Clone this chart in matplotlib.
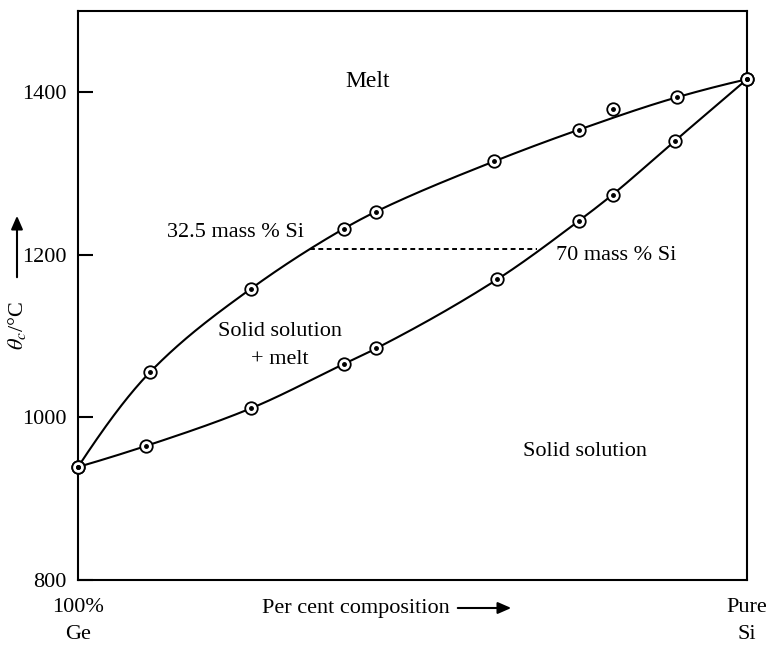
import matplotlib
matplotlib.use('Agg')
import matplotlib.pyplot as plt
import numpy as np

plt.rcParams['font.family'] = ['Liberation Serif', 'DejaVu Serif']
plt.rcParams['mathtext.fontset'] = 'stix'

#################################
## data (mass % Si, temperature in C)
#################################
liquidus_x = [0, 10.8, 25.8, 39.7, 44.5, 62.2, 74.9, 89.6, 100]
liquidus_T = [939, 1056, 1158, 1232, 1253, 1315, 1354, 1394, 1416]
stray_x = [80.0]
stray_T = [1380]
solidus_x = [0, 10.2, 25.8, 39.8, 44.6, 62.7, 74.9, 79.9, 89.2, 100]
solidus_T = [939, 965, 1011, 1066, 1085, 1170, 1242, 1274, 1340, 1416]
tie_x = [34.7, 68.6]
tie_T = 1207
y_ticks = [800, 1000, 1200, 1400]


def pchip(x, y, xs):
    # monotone cubic through the measured points, just for a smooth line
    x = np.asarray(x, float)
    y = np.asarray(y, float)
    h = np.diff(x)
    d = np.diff(y) / h
    m = np.zeros_like(y)
    for k in range(1, len(x) - 1):
        if d[k - 1] * d[k] > 0:
            w1 = 2 * h[k] + h[k - 1]
            w2 = h[k] + 2 * h[k - 1]
            m[k] = (w1 + w2) / (w1 / d[k - 1] + w2 / d[k])
    # three point end slopes
    m[0] = ((2 * h[0] + h[1]) * d[0] - h[0] * d[1]) / (h[0] + h[1])
    m[-1] = ((2 * h[-1] + h[-2]) * d[-1] - h[-1] * d[-2]) / (h[-1] + h[-2])
    i = np.clip(np.searchsorted(x, xs) - 1, 0, len(x) - 2)
    t = (xs - x[i]) / h[i]
    h00 = 2 * t**3 - 3 * t**2 + 1
    h10 = t**3 - 2 * t**2 + t
    h01 = -2 * t**3 + 3 * t**2
    h11 = t**3 - t**2
    return h00 * y[i] + h10 * h[i] * m[i] + h01 * y[i + 1] + h11 * h[i] * m[i + 1]


#################################
## figure
#################################
fig = plt.figure(figsize=(7.7, 6.46), dpi=100)
ax = fig.add_axes([0.1013, 0.1022, 0.8688, 0.8808])

xs = np.linspace(0, 100, 600)
ax.plot(xs, pchip(liquidus_x, liquidus_T, xs), color='black', lw=1.5)
ax.plot(xs, pchip(solidus_x, solidus_T, xs), color='black', lw=1.5)

for px, py in [(liquidus_x, liquidus_T), (solidus_x, solidus_T), (stray_x, stray_T)]:
    ax.plot(px, py, 'o', mfc='white', mec='black', ms=9, mew=1.3, zorder=3, clip_on=False)
    ax.plot(px, py, 'o', color='black', ms=2.5, zorder=4, clip_on=False)

ax.plot(tie_x, [tie_T, tie_T], color='black', lw=1.4, ls=(0, (2.5, 1.8)))

ax.set_xlim(0, 100)
ax.set_ylim(800, 1500)
ax.set_yticks(y_ticks)
ax.tick_params(axis='y', direction='in', length=11, width=1.5, labelsize=16, pad=8)
ax.set_xticks([0, 100])
ax.set_xticklabels(['100%\nGe', 'Pure\nSi'], fontsize=16, linespacing=1.55)
ax.tick_params(axis='x', length=0, pad=13)
for s in ax.spines.values():
    s.set_linewidth(1.5)

#################################
## labels
#################################
ax.text(43.3, 1413, 'Melt', fontsize=17, ha='center', va='center')
ax.text(13.3, 1228, '32.5 mass % Si', fontsize=16, ha='left', va='center')
ax.text(71.5, 1199, '70 mass % Si', fontsize=16, ha='left', va='center')
ax.text(30.2, 1106, 'Solid solution', fontsize=16, ha='center', va='center')
ax.text(30.2, 1071, '+ melt', fontsize=16, ha='center', va='center')
ax.text(75.8, 958, 'Solid solution', fontsize=16, ha='center', va='center')

fig.text(262 / 770, 1 - 608 / 646, 'Per cent composition', fontsize=16, ha='left', va='center')
fig.add_artist(matplotlib.patches.FancyArrowPatch(
    (455 / 770, 1 - 608 / 646), (514 / 770, 1 - 608 / 646), transform=fig.transFigure,
    arrowstyle='-|>,head_length=8,head_width=3.5', color='black', lw=1.5))

fig.text(17 / 770, 1 - 325 / 646, r'$\theta_c$/°C', fontsize=16, rotation=90, ha='center', va='center')
fig.add_artist(matplotlib.patches.FancyArrowPatch(
    (17 / 770, 1 - 280 / 646), (17 / 770, 1 - 213 / 646), transform=fig.transFigure,
    arrowstyle='-|>,head_length=8,head_width=3.5', color='black', lw=1.5))

fig.savefig('out.png', dpi=100)
